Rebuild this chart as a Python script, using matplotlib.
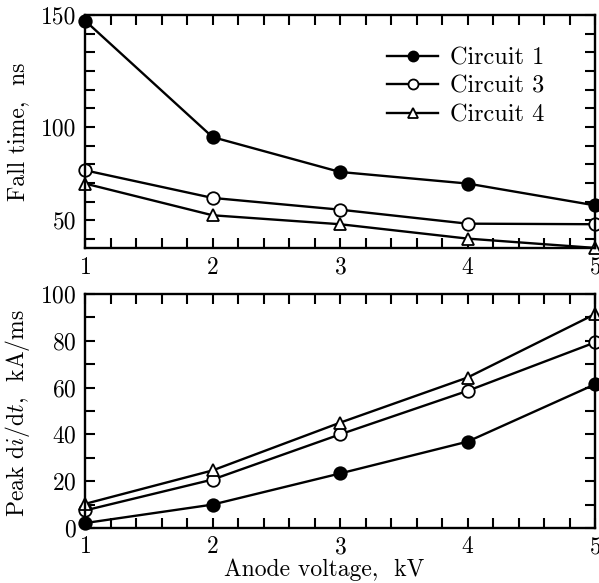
import matplotlib
matplotlib.use("Agg")
import matplotlib.pyplot as plt
from matplotlib.ticker import MultipleLocator, FixedLocator, FixedFormatter

voltage = [1, 2, 3, 4, 5]
fall_c1 = [157, 94.6, 75.9, 69.7, 58.0]
fall_c3 = [76.8, 62.0, 55.7, 48.2, 47.9]
fall_c4 = [69.7, 52.7, 47.9, 40.2, 35.2]
didt_c1 = [2.1, 10.0, 23.3, 36.9, 61.4]
didt_c3 = [7.5, 20.7, 40.0, 58.6, 79.3]
didt_c4 = [10.3, 24.6, 45.0, 64.3, 91.4]
labels = ["Circuit 1", "Circuit 3", "Circuit 4"]
x_ticks = [1, 2, 3, 4, 5]
fall_ticks = [50, 100, 160]
fall_ticklabels = ["50", "100", "150"]
didt_ticks = [0, 20, 40, 60, 80, 100]

plt.rcParams["font.family"] = ["cmr10", "DejaVu Serif"]
plt.rcParams["mathtext.fontset"] = "cm"
plt.rcParams["axes.formatter.use_mathtext"] = True
plt.rcParams["axes.unicode_minus"] = False

W, H = 599, 583
fig = plt.figure(figsize=(W / 100, H / 100), dpi=100)

def frac_box(l, t, r, b):
    return [l / W, 1 - b / H, (r - l) / W, (b - t) / H]

ax1 = fig.add_axes(frac_box(85, 15, 595, 248.3))
ax2 = fig.add_axes(frac_box(85, 294, 595, 528))

styles = [
    dict(marker="o", mfc="black", mec="black"),
    dict(marker="o", mfc="white", mec="black"),
    dict(marker="^", mfc="white", mec="black"),
]
common = dict(color="black", lw=1.7, ms=9, mew=1.3, clip_on=False)

for ys, st, lab in zip([fall_c1, fall_c3, fall_c4], styles, labels):
    ax1.plot(voltage, ys, label=lab, **st, **common)
for ys, st, lab in zip([didt_c1, didt_c3, didt_c4], styles, labels):
    ax2.plot(voltage, ys, label=lab, **st, **common)

ax1.set_xlim(1, 5)
ax1.set_ylim(35, 160)
ax2.set_xlim(1, 5)
ax2.set_ylim(0, 100)

ax1.yaxis.set_major_locator(FixedLocator(fall_ticks))
ax1.yaxis.set_major_formatter(FixedFormatter(fall_ticklabels))
ax1.yaxis.set_minor_locator(MultipleLocator(10))
ax2.yaxis.set_major_locator(FixedLocator(didt_ticks))
ax2.yaxis.set_minor_locator(MultipleLocator(10))

for ax in (ax1, ax2):
    ax.xaxis.set_major_locator(FixedLocator(x_ticks))
    ax.xaxis.set_minor_locator(MultipleLocator(0.2))
    ax.tick_params(which="both", direction="in", top=True, right=True,
                   width=1.5, labelsize=17, labelright=False, labeltop=False)
    ax.tick_params(which="major", length=7, pad=6)
    ax.tick_params(which="minor", length=7)
    for s in ax.spines.values():
        s.set_linewidth(1.7)

leg = ax1.legend(loc="upper left", bbox_to_anchor=(387 / W, 1 - 47 / H),
                 bbox_transform=fig.transFigure, frameon=False,
                 fontsize=17.5, handlelength=2.1, handletextpad=0.5,
                 labelspacing=0.27, borderaxespad=0, borderpad=0,
                 markerscale=0.8)

fig.text(18 / W, 1 - 131.5 / H, "Fall time,  ns", rotation=90, ha="center",
         va="center", fontsize=17)
fig.text(18 / W, 1 - 413 / H, r"Peak d$i$/d$t$,  kA/ms", rotation=90,
         ha="center", va="center", fontsize=17)
fig.text(324 / W, 1 - 576 / H, "Anode voltage,  kV", ha="center", va="baseline",
         fontsize=17)

fig.savefig("out.png", dpi=100)
